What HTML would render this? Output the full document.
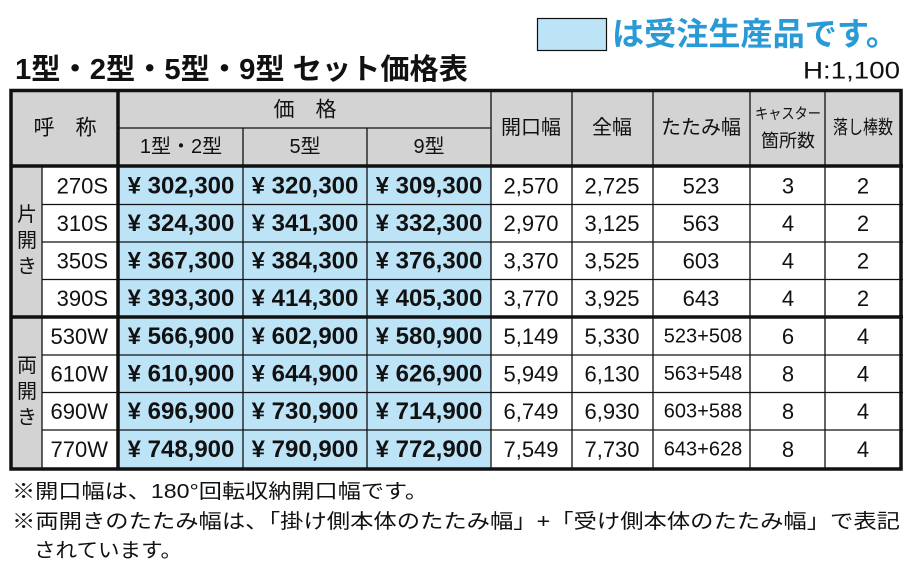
<!DOCTYPE html>
<html><head><meta charset="utf-8"><style>
html,body{margin:0;padding:0;background:#fff;}
svg{display:block;}
text{font-family:"Liberation Sans","Noto Sans CJK JP",sans-serif;fill:#111;}
.h{font-size:20px;}
.n{font-size:22px;}
.p{font-size:24px;font-weight:bold;}
</style></head><body>
<svg width="924" height="585" viewBox="0 0 924 585" xmlns="http://www.w3.org/2000/svg">
<rect x="537.5" y="18.5" width="69" height="32" fill="#bde3f7" stroke="#111" stroke-width="1.2"/>
<text x="612" y="34" dominant-baseline="central" textLength="286" lengthAdjust="spacingAndGlyphs" style="font-size:32px;font-weight:bold;fill:#2a9ad6">は受注生産品です。</text>
<text x="15" y="70" dominant-baseline="central" textLength="453" lengthAdjust="spacingAndGlyphs" style="font-size:29px;font-weight:bold">1型・2型・5型・9型 セット価格表</text>
<text x="900" y="71" dominant-baseline="central" text-anchor="end" textLength="97" lengthAdjust="spacingAndGlyphs" style="font-size:24px">H:1,100</text>

<rect x="10" y="90" width="893" height="76" fill="#d3d3d3"/>
<rect x="10" y="166" width="32" height="303" fill="#d3d3d3"/>
<rect x="42" y="166" width="76" height="303" fill="#fff"/>
<rect x="118" y="166" width="373" height="303" fill="#bde3f7"/>

<g stroke="#111" stroke-width="1.3">
<line x1="118" y1="128" x2="491" y2="128"/>
<line x1="243" y1="128" x2="243" y2="469"/>
<line x1="367" y1="128" x2="367" y2="469"/>
<line x1="491" y1="90" x2="491" y2="469"/>
<line x1="572" y1="90" x2="572" y2="469"/>
<line x1="653" y1="90" x2="653" y2="469"/>
<line x1="750" y1="90" x2="750" y2="469"/>
<line x1="825" y1="90" x2="825" y2="469"/>
<line x1="42" y1="166" x2="42" y2="469"/>
<line x1="42" y1="204.5" x2="903" y2="204.5"/>
<line x1="42" y1="242" x2="903" y2="242"/>
<line x1="42" y1="279.5" x2="903" y2="279.5"/>
<line x1="42" y1="355" x2="903" y2="355"/>
<line x1="42" y1="392.5" x2="903" y2="392.5"/>
<line x1="42" y1="430" x2="903" y2="430"/>
</g>
<g stroke="#111" stroke-width="3.5" fill="none">
<rect x="11" y="90.5" width="890" height="378.5"/>
<line x1="118" y1="90" x2="118" y2="469"/>
<line x1="10" y1="166" x2="903" y2="166"/>
<line x1="10" y1="317" x2="903" y2="317"/>
</g>

<text x="65" y="128" text-anchor="middle" dominant-baseline="central" style="font-size:21px">呼　称</text>
<text x="305" y="110" text-anchor="middle" dominant-baseline="central" style="font-size:21px">価　格</text>
<text class="h" x="181" y="147" text-anchor="middle" dominant-baseline="central">1型・2型</text>
<text class="h" x="305" y="147" text-anchor="middle" dominant-baseline="central">5型</text>
<text class="h" x="429" y="147" text-anchor="middle" dominant-baseline="central">9型</text>
<text class="h" x="531" y="128" text-anchor="middle" dominant-baseline="central">開口幅</text>
<text class="h" x="612" y="128" text-anchor="middle" dominant-baseline="central">全幅</text>
<text class="h" x="701" y="128" text-anchor="middle" dominant-baseline="central">たたみ幅</text>
<text x="788" y="114" text-anchor="middle" dominant-baseline="central" textLength="66" lengthAdjust="spacingAndGlyphs" style="font-size:15px">キャスター</text>
<text x="788" y="141" text-anchor="middle" dominant-baseline="central" style="font-size:18px">箇所数</text>
<text x="863" y="128" text-anchor="middle" dominant-baseline="central" textLength="60" lengthAdjust="spacingAndGlyphs" style="font-size:19px">落し棒数</text>

<text class="h" x="27" y="215" text-anchor="middle" dominant-baseline="central">片</text>
<text class="h" x="27" y="241" text-anchor="middle" dominant-baseline="central">開</text>
<text class="h" x="27" y="267" text-anchor="middle" dominant-baseline="central">き</text>
<text class="h" x="27" y="366" text-anchor="middle" dominant-baseline="central">両</text>
<text class="h" x="27" y="392" text-anchor="middle" dominant-baseline="central">開</text>
<text class="h" x="27" y="418" text-anchor="middle" dominant-baseline="central">き</text>

<g dominant-baseline="central">
<g class="n"><text x="108" y="186" text-anchor="end">270S</text><text x="108" y="223.5" text-anchor="end">310S</text><text x="108" y="261" text-anchor="end">350S</text><text x="108" y="298.5" text-anchor="end">390S</text>
<text x="108" y="336.5" text-anchor="end">530W</text><text x="108" y="374" text-anchor="end">610W</text><text x="108" y="411.5" text-anchor="end">690W</text><text x="108" y="449.5" text-anchor="end">770W</text></g>

<g class="p" text-anchor="middle">
<text x="181" y="186">¥ 302,300</text><text x="305" y="186">¥ 320,300</text><text x="429" y="186">¥ 309,300</text>
<text x="181" y="223.5">¥ 324,300</text><text x="305" y="223.5">¥ 341,300</text><text x="429" y="223.5">¥ 332,300</text>
<text x="181" y="261">¥ 367,300</text><text x="305" y="261">¥ 384,300</text><text x="429" y="261">¥ 376,300</text>
<text x="181" y="298.5">¥ 393,300</text><text x="305" y="298.5">¥ 414,300</text><text x="429" y="298.5">¥ 405,300</text>
<text x="181" y="336.5">¥ 566,900</text><text x="305" y="336.5">¥ 602,900</text><text x="429" y="336.5">¥ 580,900</text>
<text x="181" y="374">¥ 610,900</text><text x="305" y="374">¥ 644,900</text><text x="429" y="374">¥ 626,900</text>
<text x="181" y="411.5">¥ 696,900</text><text x="305" y="411.5">¥ 730,900</text><text x="429" y="411.5">¥ 714,900</text>
<text x="181" y="449.5">¥ 748,900</text><text x="305" y="449.5">¥ 790,900</text><text x="429" y="449.5">¥ 772,900</text>
</g>

<g class="n" text-anchor="middle">
<text x="531" y="186">2,570</text><text x="612" y="186">2,725</text><text x="701" y="186">523</text><text x="788" y="186">3</text><text x="863" y="186">2</text>
<text x="531" y="223.5">2,970</text><text x="612" y="223.5">3,125</text><text x="701" y="223.5">563</text><text x="788" y="223.5">4</text><text x="863" y="223.5">2</text>
<text x="531" y="261">3,370</text><text x="612" y="261">3,525</text><text x="701" y="261">603</text><text x="788" y="261">4</text><text x="863" y="261">2</text>
<text x="531" y="298.5">3,770</text><text x="612" y="298.5">3,925</text><text x="701" y="298.5">643</text><text x="788" y="298.5">4</text><text x="863" y="298.5">2</text>
<text x="531" y="336.5">5,149</text><text x="612" y="336.5">5,330</text><text x="703" y="336.5" style="font-size:20px">523+508</text><text x="788" y="336.5">6</text><text x="863" y="336.5">4</text>
<text x="531" y="374">5,949</text><text x="612" y="374">6,130</text><text x="703" y="374" style="font-size:20px">563+548</text><text x="788" y="374">8</text><text x="863" y="374">4</text>
<text x="531" y="411.5">6,749</text><text x="612" y="411.5">6,930</text><text x="703" y="411.5" style="font-size:20px">603+588</text><text x="788" y="411.5">8</text><text x="863" y="411.5">4</text>
<text x="531" y="449.5">7,549</text><text x="612" y="449.5">7,730</text><text x="703" y="449.5" style="font-size:20px">643+628</text><text x="788" y="449.5">8</text><text x="863" y="449.5">4</text>
</g>
</g>

<text x="12" y="492" dominant-baseline="central" textLength="416" lengthAdjust="spacingAndGlyphs" style="font-size:20px">※開口幅は、180°回転収納開口幅です。</text>
<text x="12" y="522" dominant-baseline="central" style="font-size:20px" textLength="888" lengthAdjust="spacingAndGlyphs">※両開きのたたみ幅は、「掛け側本体のたたみ幅」+「受け側本体のたたみ幅」で表記</text>
<text x="34" y="551" dominant-baseline="central" textLength="148" lengthAdjust="spacingAndGlyphs" style="font-size:20px">されています。</text>
</svg>
</body></html>
